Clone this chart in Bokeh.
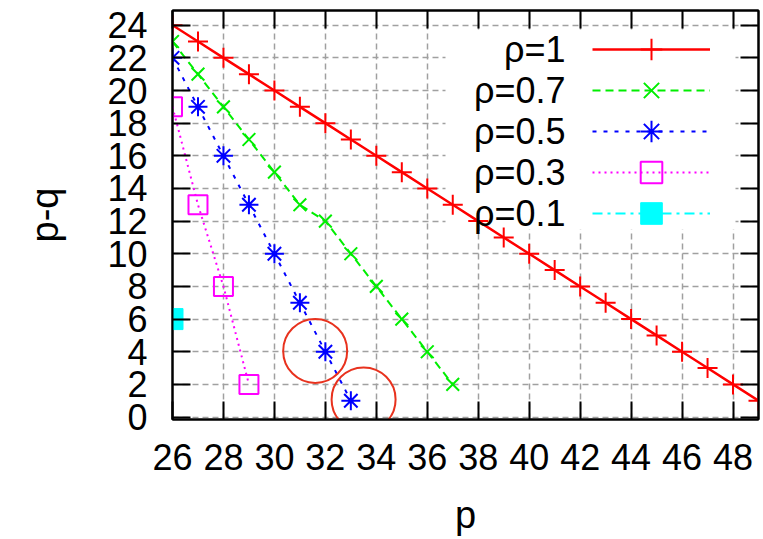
from bokeh.plotting import figure
from bokeh.models import (Range1d, LinearAxis, Legend, LegendItem, FixedTicker,
                          Label, BoxAnnotation)
from bokeh.embed import file_html
from bokeh.resources import INLINE

# ---- data ----
p_rho1 = [26, 27, 28, 29, 30, 31, 32, 33, 34, 35, 36, 37, 38, 39, 40, 41, 42, 43, 44, 45, 46, 47, 48, 49]
q_rho1 = [24, 23, 22, 21, 20, 19, 18, 17, 16, 15, 14, 13, 12, 11, 10, 9, 8, 7, 6, 5, 4, 3, 2, 1]
p_rho07 = [26, 27, 28, 29, 30, 31, 32, 33, 34, 35, 36, 37]
q_rho07 = [23, 21, 19, 17, 15, 13, 12, 10, 8, 6, 4, 2]
p_rho05 = [26, 27, 28, 29, 30, 31, 32, 33]
q_rho05 = [22, 19, 16, 13, 10, 7, 4, 1]
p_rho03 = [26, 27, 28, 29]
q_rho03 = [19, 13, 8, 2]
p_rho01 = [26]
q_rho01 = [6]
series_labels = ["ρ=1", "ρ=0.7", "ρ=0.5", "ρ=0.3", "ρ=0.1"]
x_ticks = [26, 28, 30, 32, 34, 36, 38, 40, 42, 44, 46, 48]
y_ticks = [0, 2, 4, 6, 8, 10, 12, 14, 16, 18, 20, 22, 24]
highlight_p = [31.6, 33.5]
highlight_q = [4.05, 1.08]

FONT = "Liberation Sans"
W, H = 763, 539
BL, BR, BT, BB = 172, 5, 10, 120          # borders around the frame
FRAME_W = W - BL - BR
FRAME_H = H - BT - BB

p = figure(width=W, height=H, x_range=Range1d(26, 49), y_range=Range1d(-0.15, 24.9),
           output_backend="svg", toolbar_location=None,
           min_border_left=BL, min_border_right=BR, min_border_top=BT, min_border_bottom=BB)

p.outline_line_color = "black"
p.outline_line_width = 2
p.background_fill_color = "white"
p.border_fill_color = "white"

def style_axis(ax, ticks, show_labels=True):
    ax.ticker = FixedTicker(ticks=ticks)
    ax.major_tick_in = 18
    ax.major_tick_out = 0
    ax.minor_tick_line_color = None
    ax.major_tick_line_width = 2
    ax.major_tick_line_color = "black"
    ax.axis_line_width = 2
    ax.axis_line_color = "black"
    ax.major_label_text_font = FONT
    if show_labels:
        ax.major_label_text_font_size = "36px"
        ax.major_label_text_color = "black"
    else:
        ax.major_label_text_font_size = "1px"
        ax.major_label_text_color = None
        ax.major_label_standoff = 0

style_axis(p.xaxis[0], x_ticks)
style_axis(p.yaxis[0], y_ticks)
p.xaxis.major_label_standoff = 24
p.yaxis.major_label_standoff = 25
p.xaxis.axis_label = "p"
p.yaxis.axis_label = "p-q"
for ax in (p.xaxis[0], p.yaxis[0]):
    ax.axis_label_text_font = FONT
    ax.axis_label_text_font_size = "38px"
    ax.axis_label_text_font_style = "normal"
    ax.axis_label_text_color = "black"
p.xaxis.axis_label_standoff = 21
p.yaxis.axis_label_standoff = 38

top_axis = LinearAxis()
style_axis(top_axis, x_ticks, show_labels=False)
p.add_layout(top_axis, "above")
right_axis = LinearAxis()
style_axis(right_axis, y_ticks, show_labels=False)
p.add_layout(right_axis, "right")

p.xgrid.ticker = FixedTicker(ticks=x_ticks)
p.ygrid.ticker = FixedTicker(ticks=y_ticks)
for g in (p.xgrid[0], p.ygrid[0]):
    g.grid_line_color = "#a0a0a0"
    g.grid_line_dash = "6 4"
    g.grid_line_width = 1.5

# opaque key area (drawn above the grid, below the data, as gnuplot does)
key_bg = BoxAnnotation(left=273, right=563, top=389, bottom=190,
                       left_units="screen", right_units="screen",
                       top_units="screen", bottom_units="screen",
                       fill_color="white", fill_alpha=1.0, line_color=None,
                       level="underlay")
p.add_layout(key_bg)

# series
l1 = p.line(p_rho1, q_rho1, line_color="#ff0000", line_width=2.5)
s1 = p.scatter(p_rho1, q_rho1, marker="cross", size=20, line_color="#ff0000", line_width=2)
l2 = p.line(p_rho07, q_rho07, line_color="#00ee00", line_width=2, line_dash="8 5")
s2 = p.scatter(p_rho07, q_rho07, marker="x", size=18, line_color="#00ee00", line_width=2)
l3 = p.line(p_rho05, q_rho05, line_color="#0000ff", line_width=2, line_dash="4 7")
s3 = p.scatter(p_rho05, q_rho05, marker="asterisk", size=19, line_color="#0000ff", line_width=2)
l4 = p.line(p_rho03, q_rho03, line_color="#ff00ff", line_width=2, line_dash="2 4")
s4 = p.scatter(p_rho03, q_rho03, marker="square", size=19, fill_color=None,
               line_color="#ff00ff", line_width=2)
l5 = p.line(p_rho01, q_rho01, line_color="#00ffff", line_width=2, line_dash="10 5 3 5")
s5 = p.scatter(p_rho01, q_rho01, marker="square", size=21, fill_color="#00ffff",
               line_color="#00ffff")

# highlight circles
p.scatter(highlight_p, highlight_q, marker="circle", size=64, fill_color=None,
          line_color="#e8321e", line_width=2)

# key: one sample per row on the right, texts right-aligned to their left
GLYPH_W, GLYPH_H, ROW_PITCH = 118, 54, 41
SAMPLE_LEFT = 420            # from frame left
FIRST_ROW = FRAME_H - 39     # centre of first row, from frame bottom
TEXT_RIGHT = SAMPLE_LEFT - 27
pairs = [(l1, s1), (l2, s2), (l3, s3), (l4, s4), (l5, s5)]
for i, (lr, sr) in enumerate(pairs):
    row_y = FIRST_ROW - i * ROW_PITCH
    lg = Legend(items=[LegendItem(label="", renderers=[lr, sr])],
                location=(SAMPLE_LEFT, row_y - GLYPH_H / 2))
    lg.margin = 0
    lg.padding = 0
    lg.spacing = 0
    lg.glyph_width = GLYPH_W
    lg.glyph_height = GLYPH_H
    lg.label_width = 0
    lg.label_height = 10
    lg.label_standoff = 0
    lg.border_line_color = None
    lg.background_fill_alpha = 0
    p.add_layout(lg)
    p.add_layout(Label(x=TEXT_RIGHT, y=row_y,
                       x_units="screen", y_units="screen", text=series_labels[i],
                       text_align="right", text_baseline="middle",
                       text_font=FONT, text_font_size="36px", text_color="black"))

open("out.html", "w").write(file_html(p, INLINE))
